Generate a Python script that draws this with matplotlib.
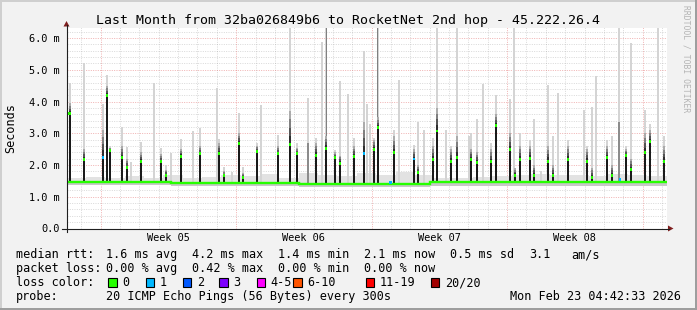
import matplotlib
matplotlib.use("Agg")
import matplotlib.pyplot as plt
import matplotlib.transforms as mtransforms
from matplotlib.patches import Polygon, Rectangle
import numpy as np

plt.rcParams['font.family'] = ['DejaVu Sans Mono', 'DejaVu Sans']

title = "Last Month from 32ba026849b6 to RocketNet 2nd hop - 45.222.26.4"

# x = days since start of the 31 day window, y = milliseconds
span_days = 31.0
first_midnight = 0.765
week_starts = [1.767, 8.767, 15.767, 22.767, 29.767]
week_labels = ["Week 05", "Week 06", "Week 07", "Week 08"]
y_top = 6.333
ytick_ms = [0, 1, 2, 3, 4, 5, 6]
ytick_labels = ["0.0", "1.0 m", "2.0 m", "3.0 m", "4.0 m", "5.0 m", "6.0 m"]

# median line between the spikes
base_edges = [0.0, 5.4, 12.0, 18.8, 31.0]
base_median = [1.47, 1.44, 1.41, 1.45]
base_low = [1.36, 1.34, 1.32, 1.35]
# upper edge of the pale smoke, one value per day
smoke_hi = [1.60, 1.62, 1.58, 1.65, 1.60, 1.70, 1.60, 1.62, 1.70, 1.65, 1.72,
            1.60, 1.75, 1.70, 1.65, 1.75, 1.70, 1.78, 1.70, 1.60, 1.60, 1.62,
            1.65, 1.70, 1.72, 1.68, 1.70, 1.65, 1.72, 1.70, 1.65]

# median spikes: position, median, top of dense smoke, top of all smoke, lost pings
spike_day = [0.16, 0.90, 1.89, 2.09, 2.25, 2.87, 3.13, 3.85, 4.88, 5.14, 5.92,
             6.90, 7.88, 8.14, 8.91, 9.12, 9.84, 10.93, 11.55, 11.91, 12.89,
             13.41, 13.87, 14.13, 14.85, 15.37, 15.89, 16.09, 16.92, 17.95,
             18.16, 18.94, 19.14, 19.87, 20.18, 20.90, 21.21, 21.93, 22.19,
             22.92, 23.17, 23.43, 23.95, 24.16, 24.88, 25.14, 25.91, 26.89,
             27.15, 27.93, 28.18, 28.90, 29.16, 29.89, 30.15, 30.87]
spike_median = [3.61, 2.17, 2.25, 4.19, 2.47, 2.23, 1.91, 2.10, 2.10, 1.68, 2.28,
                2.36, 2.36, 1.66, 2.68, 1.60, 2.42, 2.36, 2.66, 2.36, 2.31,
                2.53, 2.24, 2.05, 2.28, 2.36, 2.48, 3.17, 2.39, 2.19,
                1.76, 2.17, 3.07, 2.12, 2.23, 2.17, 2.08, 2.10, 3.25,
                2.48, 1.68, 2.17, 2.21, 1.66, 2.12, 1.68, 2.18, 2.12,
                1.62, 2.23, 1.68, 2.31, 1.85, 2.39, 2.73, 2.12]
spike_dark = [3.95, 2.50, 3.10, 4.50, 2.55, 2.60, 2.20, 2.40, 2.35, 1.85, 2.50,
              2.60, 2.70, 1.80, 3.00, 1.75, 2.60, 2.60, 3.70, 2.55, 2.70,
              2.90, 2.40, 2.30, 2.60, 3.36, 2.80, 3.50, 2.90, 2.50,
              2.00, 2.60, 3.80, 2.50, 2.90, 2.50, 2.40, 2.50, 3.60,
              3.00, 1.90, 2.60, 2.60, 2.00, 2.60, 2.00, 2.60, 2.50,
              1.90, 2.60, 2.00, 2.50, 2.20, 3.00, 3.10, 2.60]
spike_top = [4.58, 5.21, 3.92, 4.84, 2.60, 3.21, 2.57, 2.73, 2.53, 1.99, 2.82,
             3.16, 2.82, 1.93, 3.63, 1.93, 2.68, 2.95, 6.33, 2.68, 2.84,
             6.33, 2.47, 4.65, 2.86, 5.60, 2.84, 6.33, 3.10, 2.62,
             3.35, 2.84, 6.33, 2.60, 6.33, 3.00, 3.45, 2.68, 4.20,
             4.07, 1.90, 3.00, 2.80, 3.45, 4.52, 2.90, 2.80, 2.60,
             3.84, 2.80, 2.90, 2.60, 5.84, 3.74, 3.30, 2.90]
spike_loss = [0, 0, 1, 0, 0, 0, 0, 0, 0, 0, 0,
              0, 0, 0, 0, 0, 0, 0, 0, 0, 0,
              0, 0, 0, 0, 1, 0, 0, 0, 1,
              0, 0, 0, 0, 0, 0, 0, 0, 0,
              0, 0, 0, 0, 0, 0, 0, 0, 0,
              0, 0, 0, 0, 0, 0, 0, 0]

# smoke-only columns (no median spike)
pale_day = [3.33, 4.52, 5.40, 6.54, 7.78, 8.55, 10.05, 12.48, 13.20, 14.54,
            15.52, 15.68, 17.18, 18.47, 19.61, 20.80, 21.52, 23.12, 24.52,
            25.39, 26.74, 27.36, 28.54, 30.56]
pale_top = [2.10, 4.58, 2.38, 3.07, 4.42, 1.79, 3.89, 4.12, 5.89, 4.24,
            3.92, 3.28, 4.68, 3.10, 3.10, 2.90, 4.55, 6.33, 1.80,
            4.26, 3.74, 4.80, 6.33, 6.33]
dense_day = [12.48, 28.54]
dense_top = [2.70, 3.37]
streak_day = [13.41, 16.09]
streak_top = [6.33, 6.33]

# single pings lost on the base line
lost_day = [16.74, 28.59]
lost_ms = [1.44, 1.55]

loss_labels = ["0", "1", "2", "3", "4-5", "6-10", "11-19", "20/20"]
loss_colors = ["#26ff00", "#00b8ff", "#0059ff", "#7e00ff", "#ff00ff",
               "#ff5500", "#ff0000", "#a10000"]
rtt_stats = [1.6, 4.2, 1.4, 2.1, 0.5]
rtt_names = ["avg", "max", "min", "now", "sd"]
am_s = 3.1
loss_stats = [0.00, 0.42, 0.00, 0.00]
loss_names = ["avg", "max", "min", "now"]
probe_text = "20 ICMP Echo Pings (56 Bytes) every 300s"
stamp = "Mon Feb 23 04:42:33 2026"

W, H = 697, 310
L, R, T, B = 66.5, 666.5, 27.5, 228.5

fig = plt.figure(figsize=(W / 100, H / 100), dpi=100, facecolor='#f2f2f2')
ax = fig.add_axes([L / W, (H - B) / H, (R - L) / W, (B - T) / H])
ax.set_facecolor('white')
ax.set_xlim(0, span_days)
ax.set_ylim(0, y_top)
for s in ax.spines.values():
    s.set_visible(False)

# grid
day_lines = np.arange(first_midnight, span_days, 1.0)
minor_x = [d for d in day_lines if min(abs(d - w) for w in week_starts) > 0.01]
minor_y = [v for v in np.arange(0.2, y_top, 0.2) if abs(v - round(v)) > 0.01]
dots = (0, (1, 1.4))
ax.vlines(minor_x, 0, y_top, colors='#8f8f8f', alpha=0.35, lw=0.7, linestyles=dots, zorder=0.5)
ax.hlines(minor_y, 0, span_days, colors='#8f8f8f', alpha=0.35, lw=0.7, linestyles=dots, zorder=0.5)
ax.vlines(week_starts, 0, y_top, colors='#de5050', alpha=0.45, lw=0.7, linestyles=dots, zorder=0.6)
ax.hlines(ytick_ms[1:], 0, span_days, colors='#de5050', alpha=0.45, lw=0.7, linestyles=dots, zorder=0.6)

# base line smoke
day_edges = np.arange(0, 32)
ax.stairs(smoke_hi, day_edges, baseline=1.40, fill=True, color='#e2e2e2', zorder=1)
ax.stairs(base_median, base_edges, baseline=base_low, fill=True, color='#c8c8c8', zorder=1.1)


def base_at(d):
    i = np.searchsorted(base_edges, d, side='right') - 1
    return base_median[min(i, len(base_median) - 1)]


sd = np.array(spike_day)
med = np.array(spike_median)
dark = np.array(spike_dark)
top = np.array(spike_top)
sb = np.array([base_at(d) for d in spike_day])
pb = np.array([base_at(d) for d in pale_day])
db = np.array([base_at(d) for d in dense_day])
tb = np.array([base_at(d) for d in streak_day])

ax.bar(pale_day, np.array(pale_top) - pb, bottom=pb, width=0.1, color='#d4d4d4', lw=0, zorder=2)
ax.bar(sd, top - sb, bottom=sb, width=0.1, color='#d4d4d4', lw=0, zorder=2)
ax.bar(dense_day, np.array(dense_top) - db, bottom=db, width=0.14, color='#8c8c8c', lw=0, zorder=2.1)
ax.bar(streak_day, np.array(streak_top) - tb, bottom=tb, width=0.05, color='#808080', lw=0, zorder=2.2)

# darker smoke right above the median
shades = ['#2e2e2e', '#555555', '#808080', '#ababab']
for k, c in enumerate(shades):
    lo = med + (dark - med) * k / len(shades)
    hi = med + (dark - med) * (k + 1) / len(shades)
    ax.bar(sd, hi - lo, bottom=lo, width=0.11, color=c, lw=0, zorder=3)

ax.bar(sd, med - sb, bottom=sb, width=0.11, color='#1a1a1a', lw=0, zorder=3.5,
       antialiased=False)

# median line coloured by loss
ax.stairs(base_median, base_edges, baseline=None, color=loss_colors[0], lw=1.7, zorder=4)
ax.bar(sd, 0.09, bottom=med - 0.045, width=0.13,
       color=[loss_colors[l] for l in spike_loss], lw=0, zorder=4.5, antialiased=False)
ax.bar(lost_day, 0.09, bottom=np.array(lost_ms) - 0.045, width=0.13,
       color=loss_colors[1], lw=0, zorder=4.5, antialiased=False)

ax.set_yticks(ytick_ms)
ax.set_yticklabels(ytick_labels, fontsize=7.4)
ax.tick_params(axis='y', length=0, pad=4.6)
ax.set_xticks([])
xt = mtransforms.blended_transform_factory(ax.transData, ax.transAxes)
for i, lab in enumerate(week_labels):
    ax.text(week_starts[i] + 3.5, -0.063, lab, transform=xt, ha='center',
            va='baseline', fontsize=7.4)

# overlay in pixel coordinates for frame, axes, arrows and legend
ov = fig.add_axes([0, 0, 1, 1], zorder=5)
ov.set_xlim(0, W)
ov.set_ylim(H, 0)
ov.axis('off')
ov.patch.set_alpha(0)

ov.add_patch(Rectangle((0, 0), W, 2, color='#cfcfcf', lw=0))
ov.add_patch(Rectangle((0, 0), 2, H, color='#cfcfcf', lw=0))
ov.add_patch(Rectangle((0, H - 2), W, 2, color='#9e9e9e', lw=0))
ov.add_patch(Rectangle((W - 2, 0), 2, H, color='#9e9e9e', lw=0))

ov.plot([62, 669], [B, B], color='#1f1f1f', lw=0.8)
ov.plot([L, L], [B + 3, 25], color='#1f1f1f', lw=0.8)
ov.add_patch(Polygon([[L - 3, 26.5], [L + 3, 26.5], [L, 21]], closed=True, color='#801f1f', lw=0))
ov.add_patch(Polygon([[668, B - 3], [668, B + 3], [673.5, B]], closed=True, color='#801f1f', lw=0))

ov.text(W / 2, 24, title, ha='center', va='baseline', fontsize=9.5)
ov.text(10.5, (T + B) / 2, "Seconds", rotation=90, ha='center', va='center', fontsize=8.5)
ov.text(686, 59, "RRDTOOL / TOBI OETIKER", rotation=270, ha='center', va='center',
        fontsize=5.8, color='#b4b4b4')

fs = 8.5
cols = [106.3, 192.3, 278.3, 364, 450]
rows = [258.3, 272.2, 286.1, 300]
ov.text(15.5, rows[0], "median rtt:", va='baseline', fontsize=fs)
for x, v, n in zip(cols, rtt_stats, rtt_names):
    ov.text(x, rows[0], f"{v:.1f} ms {n}", va='baseline', fontsize=fs)
ov.text(529, rows[0], f"{am_s:.1f}", va='baseline', fontsize=fs)
ov.text(571.5, rows[0], "am/s", va='baseline', fontsize=fs)

ov.text(15.5, rows[1], "packet loss:", va='baseline', fontsize=fs)
for x, v, n in zip(cols, loss_stats, loss_names):
    ov.text(x, rows[1], f"{v:.2f} % {n}", va='baseline', fontsize=fs)

ov.text(15.5, rows[2], "loss color:", va='baseline', fontsize=fs)
box_x = [108.3, 145.7, 182.7, 219.3, 256.7, 293.3, 365.7, 430.7]
for x, lab, c in zip(box_x, loss_labels, loss_colors):
    ov.add_patch(Rectangle((x, 278.3), 8.2, 8.2, facecolor=c, edgecolor='black', lw=0.8))
    ov.text(x + 14, rows[2], lab, va='baseline', fontsize=fs)

ov.text(15.5, rows[3], "probe:", va='baseline', fontsize=fs)
ov.text(106.3, rows[3], probe_text, va='baseline', fontsize=fs)
ov.text(681, rows[3], stamp, ha='right', va='baseline', fontsize=fs)

fig.savefig("out.png", dpi=100, facecolor=fig.get_facecolor())
